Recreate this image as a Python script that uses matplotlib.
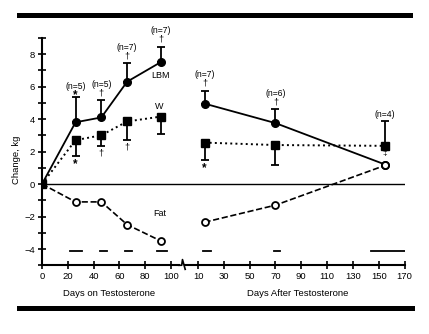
import matplotlib
matplotlib.use("Agg")
import matplotlib.pyplot as plt
from matplotlib.patches import Rectangle

plt.rcParams["font.family"] = ["Liberation Sans", "DejaVu Sans"]

# Change in body composition (kg) during and after testosterone
days_on = [0, 26, 46, 66, 92]
lbm_on = [0, 3.8, 4.1, 6.3, 7.5]
lbm_on_err = [0, 1.55, 1.05, 1.15, 0.95]
w_on = [0, 2.7, 3.0, 3.85, 4.15]
w_on_err = [0, 0.95, 0.65, 1.15, 1.1]
fat_on = [0, -1.1, -1.1, -2.5, -3.5]
n_on = ["(n=5)", "(n=5)", "(n=7)", "(n=7)"]
lbm_on_sig = ["*", "†", "†", "†"]
w_on_sig = ["*", "†", "†", ""]

days_after = [15, 70, 155]
lbm_after = [4.95, 3.75, 1.2]
lbm_after_err = [0.8, 0.85, 0]
w_after = [2.55, 2.4, 2.35]
w_after_err_lo = [1.1, 1.25, 0]
w_after_err_hi = [0, 0, 1.5]
fat_after = [-2.35, -1.3, 1.15]
n_after = ["(n=7)", "(n=6)", "(n=4)"]
lbm_after_sig = ["†", "†", ""]

# spans marked along the bottom
spans_on = [(22, 31), (45, 50), (64, 69.5), (89, 97)]
spans_after = [(14, 20), (69, 73.5), (144, 170)]

tick_on = [0, 20, 40, 60, 80, 100]
tick_after = [10, 30, 50, 70, 90, 110, 130, 150, 170]

# the post-treatment days sit on the same axis, shifted right
shift = 111
ua = [d + shift for d in days_after]

fig = plt.figure(figsize=(4.29, 3.34), dpi=100)
ax = fig.add_axes([0.0979, 0.2058, 0.845, 0.681])
ax.set_xlim(0, 170 + shift)
ax.set_ylim(-5, 9)

k = "black"
lw = 1.3
eb = dict(fmt="none", ecolor=k, elinewidth=1.3, capsize=3, capthick=1.3, zorder=3)
# zero line
ax.axhline(0, color=k, lw=1.0, zorder=1)

# LBM
ax.plot(days_on, lbm_on, "-", color=k, lw=lw, zorder=3)
ax.plot(days_on[1:], lbm_on[1:], "o", color=k, ms=5.5, zorder=4)
ax.errorbar(days_on[1:], lbm_on[1:], yerr=[[0] * 4, lbm_on_err[1:]], **eb)
ax.plot(ua, lbm_after, "o-", color=k, lw=lw, ms=5.5, zorder=4)
ax.errorbar(ua[:2], lbm_after[:2], yerr=[[0, 0], lbm_after_err[:2]], **eb)

# W
ax.plot(days_on, w_on, ":", color=k, lw=1.4, zorder=3)
ax.plot(days_on, w_on, "s", color=k, ms=5.5, zorder=4)
ax.errorbar(days_on[1:], w_on[1:], yerr=[w_on_err[1:], [0] * 4], **eb)
ax.plot(ua, w_after, "s:", color=k, lw=1.4, ms=5.5, zorder=4)
ax.errorbar(ua, w_after, yerr=[w_after_err_lo, w_after_err_hi], **eb)

# Fat
ax.plot(days_on, fat_on, "--", color=k, lw=1.2, zorder=3)
ax.plot(days_on[1:], fat_on[1:], "o", mfc="white", mec=k, mew=1.3, ms=5, zorder=4)
ax.plot(ua, fat_after, "o--", color=k, lw=1.2, mfc="white", mec=k, mew=1.3, ms=5, zorder=4)

# spans near the bottom
for a, b in spans_on:
    ax.plot([a, b], [-4.15, -4.15], color=k, lw=1.3)
for a, b in spans_after:
    ax.plot([a + shift, b + shift], [-4.15, -4.15], color=k, lw=1.3)

# annotations
fs_n = 6.2
star = dict(ha="center", va="center", fontsize=8.5, fontweight="bold")
dag = dict(ha="center", va="center", fontsize=6.5)
for x, y, e, n, s in zip(days_on[1:], lbm_on[1:], lbm_on_err[1:], n_on, lbm_on_sig):
    top = y + e
    if s == "*":
        ax.text(x, top + 0.12, s, **star)
        ax.text(x, top + 0.68, n, ha="center", va="center", fontsize=fs_n)
    else:
        ax.text(x, top + 0.45, s, **dag)
        ax.text(x, top + 0.98, n, ha="center", va="center", fontsize=fs_n, clip_on=False)
for x, y, e, n, s in zip(ua, lbm_after, lbm_after_err, n_after, lbm_after_sig):
    top = y + e if e else w_after[2] + w_after_err_hi[2]
    ax.text(x, top + 0.45, s, **dag)
    ax.text(x, top + (0.98 if s else 0.45), n, ha="center", va="center", fontsize=fs_n)
for x, y, e, s in zip(days_on[1:], w_on[1:], w_on_err[1:], w_on_sig):
    if s == "*":
        ax.text(x, y - e - 0.5, s, **star)
    else:
        ax.text(x, y - e - 0.45, s, **dag)
ax.text(ua[0], w_after[0] - w_after_err_lo[0] - 0.5, "*", **star)
ax.text(ua[2], (w_after[2] + lbm_after[2]) / 2 + 0.1, "‡", ha="center", va="center", fontsize=6)

ax.text(91.5, 6.7, "LBM", ha="center", va="center", fontsize=6.5)
ax.text(91, 4.8, "W", ha="center", va="center", fontsize=6.5)
ax.text(91, -1.8, "Fat", ha="center", va="center", fontsize=6.5)

# axes styling
for side in ["top", "right", "bottom"]:
    ax.spines[side].set_visible(False)
ax.spines["left"].set_linewidth(1.5)
ax.set_yticks([-4, -2, 0, 2, 4, 6, 8])
ax.set_yticklabels(["\u22124", "\u22122", "0", "2", "4", "6", "8"])
ax.set_yticks([-5, -3, -1, 1, 3, 5, 7, 9], minor=True)
ax.tick_params(axis="y", which="both", direction="inout", length=6, width=1.2,
               labelsize=6.8, pad=2)

xt = tick_on + [d + shift for d in tick_after]
xl = [str(t) for t in tick_on] + [str(t) for t in tick_after]
ax.set_xticks(xt)
ax.set_xticklabels(xl)
ax.tick_params(axis="x", direction="inout", length=6, width=1.2, labelsize=6.8, pad=2)

# broken x axis line
yb = -5
ax.plot([0, 106], [yb, yb], color=k, lw=1.5, clip_on=False)
ax.plot([106, 108.3, 108.9, 111], [yb, yb, yb + 0.35, yb - 0.25], color=k, lw=1.2, clip_on=False)
ax.plot([110.5, 170 + shift], [yb, yb], color=k, lw=1.5, clip_on=False)

ax.set_ylabel("Change, kg", fontsize=6.8)
ax.yaxis.set_label_coords(-0.059, 0.464)
ax.text(52, -6.75, "Days on Testosterone", ha="center", va="center", fontsize=6.8)
ax.text(shift + 87, -6.75, "Days After Testosterone", ha="center", va="center", fontsize=6.8)

# heavy rules above and below the figure
fig.add_artist(Rectangle((17 / 429, 1 - 17.7 / 334), 396 / 429, 4.4 / 334,
                         transform=fig.transFigure, color=k, lw=0))
fig.add_artist(Rectangle((17 / 429, 1 - 310.7 / 334), 398 / 429, 5 / 334,
                         transform=fig.transFigure, color=k, lw=0))

fig.savefig("out.png", dpi=100)
